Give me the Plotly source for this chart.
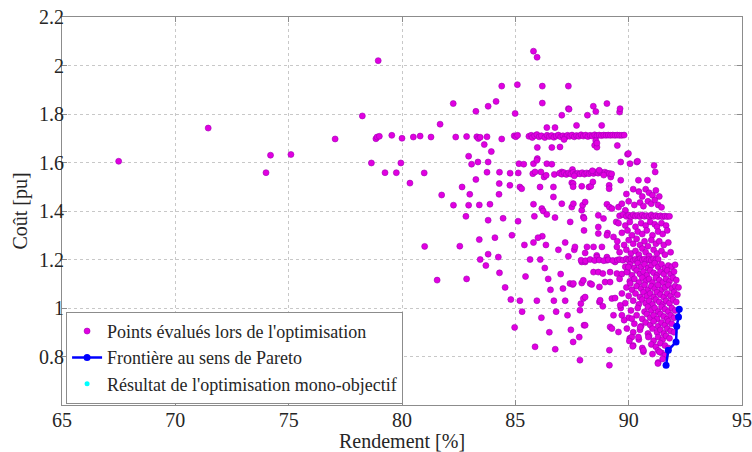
import plotly.graph_objects as go

# ---------------- data ----------------
far_left = [(67.5,1.605),(71.45,1.742),(74.0,1.558),(74.2,1.63),(75.1,1.633),(77.05,1.697),
            (78.25,1.792),(78.95,2.02),(78.85,1.698),(78.9,1.705),(79.0,1.708),(79.55,1.712),
            (78.65,1.598),(79.25,1.558),(79.75,1.558),(79.95,1.598),(80.0,1.70),(80.35,1.515)]

mid_upper = [(80.5,1.705),(80.8,1.709),(80.98,1.557),(81.28,1.705),(81.68,1.758),(81.75,1.466),
             (82.26,1.843),(82.27,1.424),(82.37,1.705),(82.65,1.499),(82.82,1.378),(82.85,1.707),
             (82.94,1.626),(82.94,1.424),(82.99,1.469),(83.07,1.593),(83.26,1.811),(83.26,1.53),
             (83.3,1.706),(83.35,1.602),(83.37,1.699),(83.41,1.425),(83.45,1.704),(83.63,1.674),
             (83.75,1.706),(83.75,1.56),(83.8,1.832),(83.8,1.602),(83.8,1.362),(83.88,1.428),
             (83.94,1.645),(84.15,1.852),(84.29,1.513),(84.28,1.469),(84.3,1.56),(84.4,1.915),
             (84.4,1.697),(84.46,1.37),(84.76,1.506),(84.77,1.556),(84.95,1.71),(84.99,1.802),
             (85.02,1.706),(85.09,1.921),(85.1,1.712),(85.12,1.358),(85.13,1.557),(85.16,1.595),
             (85.2,1.499),(85.28,1.492),(85.37,1.593),(85.77,1.554),(85.8,1.595),(85.8,1.428),
             (85.84,1.378),(85.8,2.059),(85.96,2.034),(85.97,1.616),(85.97,1.662),(86.09,1.499),
             (86.13,1.561),(86.17,1.41),(86.19,1.915),(86.19,1.845),(86.19,1.296),(86.23,1.4),
             (86.27,1.54),(86.36,1.547),(86.39,1.595),(86.39,1.744),(86.39,1.386),(86.61,1.593),
             (86.61,1.662),(86.68,1.458),(86.68,1.499),(86.72,1.551),(86.75,1.744),(86.75,1.373),
             (85.87,1.561),(85.95,1.609)]

upper_right = [(86.97,1.664),(87.05,1.795),(87.05,1.43),(87.05,1.561),(87.34,1.915),(87.34,1.822),
               (87.37,1.82),(87.42,1.355),(87.49,1.516),(87.49,1.416),(87.52,1.571),(87.55,1.513),
               (87.55,1.50),(87.56,1.43),(87.7,1.753),(87.93,1.502),(87.93,1.403),(87.97,1.424),
               (88.0,1.375),(88.03,1.37),(88.08,1.437),(88.18,1.795),(88.25,1.499),(88.33,1.502),
               (88.42,1.52),(88.44,1.832),(88.5,1.671),(88.55,1.81),(88.6,1.663),(88.66,1.382),
               (88.66,1.334),(88.81,1.753),(88.89,1.369),(89.04,1.843),(89.04,1.428),(89.07,1.309),
               (89.14,1.506),(89.14,1.492),(89.15,1.416),(89.21,1.54),(89.26,1.41),(89.33,1.293),
               (89.5,1.67),(89.55,1.416),(89.6,1.808),(89.62,1.822),(89.65,1.602),(89.65,1.527),
               (89.85,1.403),(89.95,1.634),(89.99,1.637),(90.06,1.595),(90.36,1.602),(90.39,1.605),
               (90.43,1.527),(90.83,1.527),(91.12,1.588),(91.17,1.561)]

band_171 = [(85.6,1.708),(85.7,1.712),(85.75,1.703),(85.85,1.71),(85.95,1.715),(86.05,1.706),
            (86.15,1.71),(86.3,1.703),(86.4,1.712),(86.5,1.707),(86.6,1.711),(86.7,1.704),
            (86.8,1.709),(86.9,1.713),(87.0,1.706),(87.1,1.71),(87.2,1.704),(87.3,1.712),
            (87.4,1.708),(87.5,1.713),(87.6,1.706),(87.7,1.711),(87.8,1.708),(87.9,1.714),
            (88.0,1.709),(88.1,1.713),(88.2,1.707),(88.3,1.712),(88.4,1.709),(88.5,1.714),
            (88.6,1.71),(88.7,1.713),(88.8,1.711),(88.9,1.713),(89.0,1.712),(89.1,1.713),
            (89.2,1.712),(89.3,1.713),(89.4,1.712),(89.5,1.713),(89.6,1.712),(89.7,1.712),
            (89.8,1.713),(88.55,1.69),(88.6,1.68),(87.15,1.695)]

band_155 = [(86.95,1.556),(87.05,1.552),(87.15,1.558),(87.25,1.551),(87.35,1.557),(87.45,1.553),
            (87.55,1.559),(87.65,1.552),(87.75,1.556),(87.85,1.553),(87.95,1.558),(88.05,1.552),
            (88.15,1.557),(88.25,1.554),(88.35,1.559),(88.45,1.555),(88.55,1.56),(88.65,1.556),
            (88.75,1.561),(88.85,1.557),(88.95,1.56),(89.05,1.556),(89.15,1.555),(89.25,1.553),
            (88.7,1.568),(88.4,1.566),(87.6,1.545),(88.9,1.548)]

mid_lower = [(81.0,1.254),(81.55,1.115),(82.55,1.255),(82.85,1.12),(83.41,1.282),(83.45,1.2),
             (83.7,1.175),(83.8,1.222),(84.1,1.29),(84.25,1.21),(84.3,1.145),(84.55,1.085),
             (84.8,1.035),(84.85,1.30),(84.97,0.92),(85.2,1.03),(85.3,0.985),(85.4,1.26),
             (85.45,1.13),(85.65,1.2),(85.8,1.27),(85.87,0.84),(85.95,1.03),(86.0,1.29),
             (86.1,1.2),(86.15,0.96),(86.3,1.165),(86.35,1.26),(86.45,1.12),(86.5,0.9),
             (86.55,1.075),(86.7,1.03),(86.76,0.83),(86.8,0.985),(86.9,1.24),(87.0,1.14),
             (87.1,1.08),(87.2,1.27),(87.2,1.03),(87.3,0.97),(87.34,1.213),(87.41,1.101),
             (87.45,0.91),(87.53,1.097),(87.55,0.86),(87.56,1.101),(87.6,1.24),(87.63,1.252),
             (87.82,0.88),(87.85,0.785),(87.85,0.991),(87.89,1.018),(87.93,1.19),(87.93,1.103),
             (88.0,1.039),(88.0,1.114),(88.03,1.32),(88.03,0.929),(88.08,1.227),(88.08,1.19),
             (88.08,0.929),(88.08,1.045),(88.16,1.252),(88.3,1.101),(88.37,1.097),(88.45,1.148),
             (88.45,1.252),(88.59,1.217),(88.6,1.21),(88.66,1.148),(88.66,1.307),(88.71,1.087),
             (88.71,1.025),(88.74,1.032),(88.82,1.252),(88.86,1.142),(88.86,1.007),(88.96,1.107),
             (89.04,1.21),(89.04,1.197),(89.04,1.3),(89.15,0.826),(89.15,0.764),(89.18,1.107),
             (89.18,0.922),(89.18,1.148),(89.26,1.039),(89.26,0.915),(89.33,0.97),(89.4,1.041),
             (89.45,1.355),(89.48,1.142),(89.48,1.252),(89.55,0.901),(89.4,1.19)]

band_120 = [(87.9,1.197),(88.1,1.195),(88.3,1.2),(88.5,1.196),(88.7,1.198),(88.9,1.195),
            (89.1,1.199),(89.3,1.196),(89.5,1.198)]

cloud_top = [(89.9,1.47),(90.2,1.49),(90.45,1.48),(90.6,1.46),(90.75,1.49),(90.9,1.475),(91.05,1.465),
             (91.2,1.485),(91.35,1.46),
             (89.7,1.43),(90.0,1.44),(90.25,1.425),(90.5,1.435),(90.65,1.42),(90.85,1.44),(91.0,1.43),
             (91.15,1.445),(91.3,1.425),(91.45,1.415),
             (89.6,1.38),(89.75,1.385),(89.9,1.378),(90.0,1.383),(90.1,1.376),(90.2,1.384),(90.3,1.379),
             (90.4,1.382),(90.5,1.377),(90.6,1.384),(90.7,1.378),(90.8,1.381),(90.9,1.376),(91.0,1.383),
             (91.1,1.378),(91.2,1.381),(91.3,1.377),(91.4,1.38),(91.5,1.376),(91.6,1.379),(91.7,1.377),
             (91.8,1.378),
             (89.55,1.35),(89.85,1.34),(90.05,1.355),(90.3,1.335),(90.55,1.35),(90.75,1.34),(90.95,1.355),
             (91.15,1.345),(91.25,1.335),(91.45,1.35),(91.65,1.34),
             (89.7,1.31),(89.95,1.32),(90.15,1.3),(90.4,1.315),(90.6,1.305),(90.8,1.32),(91.05,1.3),
             (91.3,1.315),(91.5,1.305),(91.7,1.32)]

cloud_mid = [(89.5,1.275),(89.8,1.26),(90.0,1.28),(90.2,1.265),(90.35,1.285),(90.5,1.26),(90.7,1.275),
             (90.85,1.255),(91.0,1.28),(91.2,1.265),(91.35,1.275),(91.55,1.26),(91.75,1.27),
             (89.6,1.23),(89.9,1.24),(90.1,1.225),(90.3,1.235),(90.45,1.22),(90.6,1.245),(90.75,1.23),
             (90.9,1.215),(91.1,1.24),(91.25,1.225),(91.45,1.235),(91.6,1.22),(91.85,1.23),
             (89.6,1.2),(89.75,1.197),(89.9,1.203),(90.0,1.198),(90.1,1.202),(90.2,1.196),(90.3,1.201),
             (90.4,1.197),(90.5,1.203),(90.6,1.198),(90.7,1.202),(90.8,1.196),(90.9,1.2),(91.0,1.197),
             (91.1,1.203),(91.2,1.199),(91.3,1.201),
             (89.85,1.17),(90.05,1.18),(90.25,1.165),(90.4,1.185),(90.55,1.17),(90.7,1.18),(90.85,1.165),
             (91.0,1.175),(91.15,1.185),(91.3,1.17),(91.45,1.18),(91.6,1.165),(91.75,1.175),(91.9,1.17),
             (92.05,1.178),
             (89.7,1.14),(89.95,1.15),(90.15,1.135),(90.35,1.155),(90.5,1.14),(90.65,1.15),(90.8,1.135),
             (90.95,1.155),(91.1,1.145),(91.25,1.135),(91.4,1.15),(91.55,1.14),(91.7,1.155),(91.85,1.14),
             (92.0,1.15)]

cloud_low = [(90.05,1.11),(90.25,1.12),(90.45,1.105),(90.6,1.125),(90.75,1.11),(90.9,1.12),(91.05,1.105),
             (91.2,1.125),(91.35,1.115),(91.5,1.105),(91.65,1.12),(91.8,1.11),(91.95,1.125),(92.1,1.115),
             (89.9,1.085),(90.15,1.075),(90.35,1.09),(90.55,1.08),(90.7,1.095),(90.85,1.075),(91.0,1.09),
             (91.15,1.08),(91.3,1.095),(91.45,1.075),(91.6,1.085),(91.75,1.095),(91.9,1.08),(92.05,1.09),
             (92.2,1.085),
             (90.0,1.05),(90.3,1.06),(90.5,1.045),(90.65,1.065),(90.8,1.05),(90.95,1.06),(91.1,1.045),
             (91.25,1.065),(91.4,1.055),(91.55,1.045),(91.7,1.06),(91.85,1.05),(92.0,1.065),(92.15,1.055),
             (89.85,1.02),(90.2,1.03),(90.45,1.015),(90.6,1.035),(90.75,1.02),(90.9,1.03),(91.05,1.015),
             (91.2,1.035),(91.35,1.025),(91.5,1.015),(91.65,1.03),(91.8,1.02),(91.95,1.035),(92.1,1.025),
             (90.1,0.99),(90.4,1.0),(90.7,0.985),(90.85,1.005),(91.0,0.99),(91.15,1.0),(91.3,0.985),
             (91.45,1.005),(91.6,0.995),(91.75,0.985),(91.9,1.0),(92.05,0.99)]

cloud_bottom = [(90.0,0.96),(90.35,0.97),(90.6,0.955),(90.8,0.975),(90.95,0.96),(91.1,0.97),(91.25,0.955),
                (91.4,0.975),(91.55,0.965),(91.7,0.955),(91.85,0.97),(92.0,0.96),
                (90.25,0.935),(90.55,0.925),(90.75,0.94),(90.95,0.93),(91.1,0.945),(91.3,0.925),
                (91.45,0.94),(91.6,0.93),(91.75,0.945),(91.9,0.935),
                (90.2,0.9),(90.5,0.91),(90.85,0.895),(91.05,0.915),(91.25,0.9),(91.4,0.91),(91.55,0.895),
                (91.7,0.915),(91.85,0.905),(92.0,0.9),
                (90.05,0.875),(90.45,0.87),(90.9,0.885),(91.1,0.865),(91.3,0.88),(91.5,0.87),(91.65,0.885),
                (91.8,0.875),
                (90.2,0.845),(90.6,0.835),(91.0,0.85),(91.2,0.84),(91.4,0.855),(91.6,0.845),(91.75,0.835),
                (90.65,0.82),(91.05,0.81),(91.3,0.825),(91.45,0.815),(91.6,0.805),
                (91.3,0.775),(91.5,0.79),
                (89.6,1.12),(89.7,1.06),(89.65,1.0),(89.8,0.95),(89.92,0.915),(89.63,1.011),(89.7,0.97),
                (89.92,1.148),(89.99,1.169),(90.07,1.101),(90.14,0.956),(90.14,0.88),(90.03,0.864),
                (90.18,0.842),(90.43,0.88),(90.87,0.88),(90.65,0.826),(91.29,0.771),(91.36,0.819),
                (90.51,0.921)]

pareto_x = [91.65, 91.75, 92.09, 92.12, 92.2, 92.23]
pareto_y = [0.764, 0.826, 0.86, 0.925, 0.963, 0.995]

mono_x = [92.2]
mono_y = [0.963]

x_ticks = [65, 70, 75, 80, 85, 90, 95]
y_ticks = [0.8, 1.0, 1.2, 1.4, 1.6, 1.8, 2.0, 2.2]
y_tick_labels = ["0.8", "1", "1.2", "1.4", "1.6", "1.8", "2", "2.2"]

all_points = (far_left + mid_upper + upper_right + band_171 + band_155 + mid_lower + band_120
              + cloud_top + cloud_mid + cloud_low + cloud_bottom)
eval_x = [p[0] for p in all_points]
eval_y = [p[1] for p in all_points]

SERIF = "Liberation Serif, Times New Roman, serif"
TXT = "#262626"

# ---------------- figure ----------------
fig = go.Figure()

fig.add_trace(go.Scatter(
    x=mono_x, y=mono_y, mode="markers", name="Résultat de l'optimisation mono-objectif",
    marker=dict(color="#00ffff", size=5), legendrank=3))

fig.add_trace(go.Scatter(
    x=eval_x, y=eval_y, mode="markers", name="Points évalués lors de l'optimisation",
    marker=dict(color="rgb(225,0,225)", size=6, line=dict(color="rgb(160,0,180)", width=0.6)),
    legendrank=1))

fig.add_trace(go.Scatter(
    x=pareto_x, y=pareto_y, mode="lines+markers", name="Frontière au sens de Pareto",
    line=dict(color="#0000ff", width=2.5), marker=dict(color="#0000ff", size=7),
    legendrank=2))

axis_common = dict(
    showgrid=True, gridcolor="#c8c8c8", griddash="dot", gridwidth=1,
    showline=True, linecolor="#8c8c8c", linewidth=1, mirror="ticks",
    ticks="inside", ticklen=5, tickcolor="#8c8c8c", zeroline=False,
    tickfont=dict(family=SERIF, size=20, color=TXT),
)

fig.update_xaxes(range=[65, 95], tickvals=x_ticks, ticklabelstandoff=-3, **axis_common)
fig.update_yaxes(range=[0.6, 2.2], tickvals=y_ticks, ticktext=y_tick_labels, ticklabelstandoff=-7,
                 title=dict(text="Coût [pu]", font=dict(family=SERIF, size=20, color=TXT), standoff=6),
                 **axis_common)

fig.update_layout(
    width=752, height=452,
    margin=dict(l=62, r=10, t=17, b=47, autoexpand=False),
    paper_bgcolor="white", plot_bgcolor="white",
    font=dict(family=SERIF, size=20, color=TXT),
    showlegend=True,
    legend=dict(x=0.006, y=0.003, xanchor="left", yanchor="bottom",
                bgcolor="white", bordercolor="#8c8c8c", borderwidth=1,
                font=dict(family=SERIF, size=18, color=TXT),
                tracegroupgap=0, itemwidth=30),
    annotations=[dict(text="Rendement [%]", x=0.5, y=0, xref="paper", yref="paper",
                      xanchor="center", yanchor="top", yshift=-23, showarrow=False,
                      font=dict(family=SERIF, size=20, color=TXT))],
)

fig.write_html("out.html", config={"displayModeBar": False},
               post_script="document.body.style.margin='0';document.body.style.padding='0';"
                           "document.documentElement.style.overflow='hidden';")
